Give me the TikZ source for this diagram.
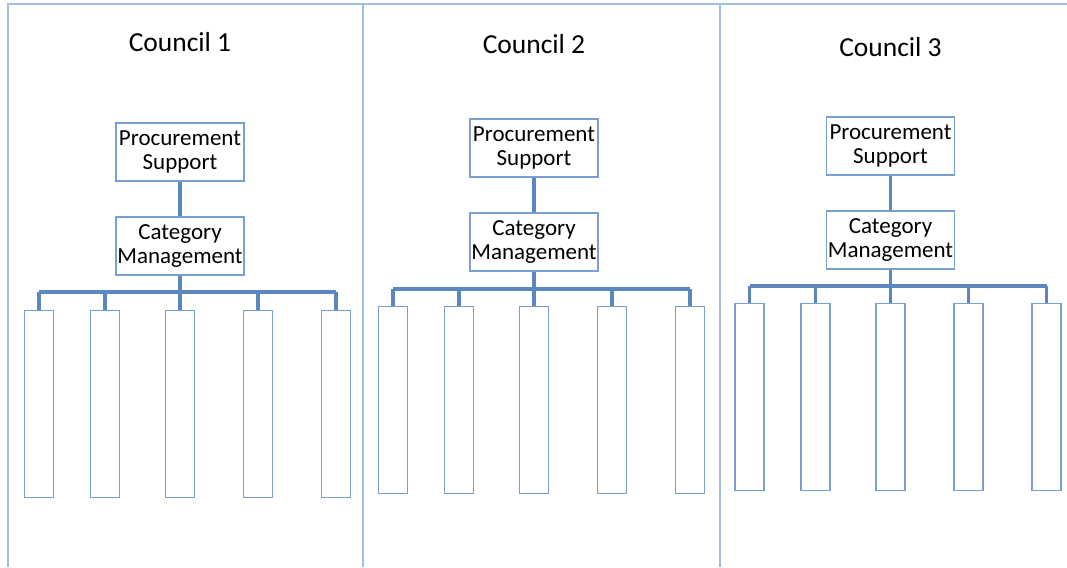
\documentclass[tikz,border=0pt]{standalone}
\usepackage{fontspec}
\setmainfont{Carlito}
\usetikzlibrary{positioning}
\definecolor{framec}{RGB}{160,190,225}
\definecolor{boxc}{RGB}{120,160,208}
\definecolor{busc}{RGB}{90,135,192}
\tikzset{
  frameline/.style={draw=framec, line width=2.2pt},
  unit/.style={draw=boxc, line width=1.8pt, align=center, inner sep=1pt,
    minimum width=128pt, minimum height=58pt, font=\fontsize{23}{24.5}\selectfont},
  slot/.style={draw=boxc, line width=1.8pt, minimum width=29pt, minimum height=187pt, inner sep=0pt},
  bus/.style={draw=busc, line width=3.4pt},
  ttl/.style={font=\fontsize{27.5}{30}\selectfont}}

\begin{document}
\begin{tikzpicture}[x=1pt, y=-1pt]
  \useasboundingbox (0,0) rectangle (1067,567);
  % frame and column dividers
  \draw[frameline] (8,567) -- (8,4) -- (1067,4);
  \draw[frameline] (363,4) -- (363,567);
  \draw[frameline] (720,4) -- (720,567);
  % one column per council
  \foreach \n/\cx/\ty/\py/\ky/\by/\sy in {1/180/42/152/246/292/404, 2/534/44/148/242/289/400, 3/890.5/47/146/240/286/397}{
    \node[ttl] (title\n) at (\cx,\ty) {Council \n};
    \node[unit] (proc\n) at (\cx,\py) {Procurement\\Support};
    \node[unit] (cat\n) at (\cx,\ky) {Category\\Management};
    \draw[bus] (proc\n) -- (cat\n);
    \coordinate (bus\n) at (\cx,\by);
    \foreach \k/\dx in {1/-141, 2/-75, 3/0, 4/78, 5/156}{
      \node[slot] (slot\n-\k) at (\cx+\dx,\sy) {};
      \draw[bus] (slot\n-\k.north) -- (slot\n-\k.north |- bus\n);
    }
    \draw[bus] (cat\n) -- (bus\n);
    \draw[bus] (slot\n-1.north |- bus\n) -- (slot\n-5.north |- bus\n);
  }
\end{tikzpicture}
\end{document}
